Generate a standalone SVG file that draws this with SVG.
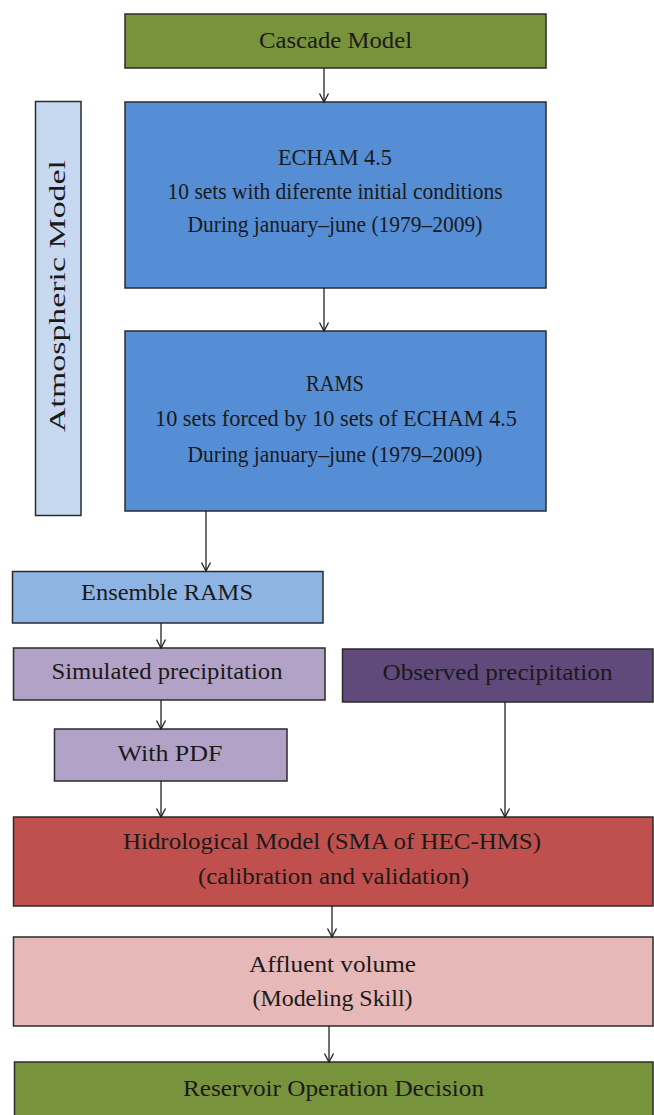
<svg xmlns="http://www.w3.org/2000/svg" width="654" height="1115" viewBox="0 0 654 1115">
  <defs>
    <marker id="arr" markerWidth="12" markerHeight="12" refX="10.5" refY="6" orient="auto" markerUnits="userSpaceOnUse" viewBox="0 0 12 12">
      <polyline points="2,1.5 10.5,6 2,10.5" fill="none" stroke="#222" stroke-width="1.3"/>
    </marker>
  </defs>
  <style>
    .box { stroke: #2b2b2b; stroke-width: 1.5; }
    .t { font-family: "Liberation Serif", "Times New Roman", serif; font-size: 24px; fill: #1a1a1a; text-anchor: middle; }
    .c { stroke: #222; stroke-width: 1.3; fill: none; marker-end: url(#arr); }
  </style>
  <rect width="654" height="1115" fill="#ffffff"/>

  <g id="cascade">
    <rect class="box" x="125" y="14" width="421" height="54" fill="#77933C"/>
    <text class="t" x="335.5" y="48" textLength="153" lengthAdjust="spacingAndGlyphs">Cascade Model</text>
  </g>

  <g id="echam">
    <rect class="box" x="125" y="102" width="421" height="186" fill="#558ED5"/>
    <text class="t" x="335" y="165" textLength="114" lengthAdjust="spacingAndGlyphs">ECHAM 4.5</text>
    <text class="t" x="335" y="199" textLength="335" lengthAdjust="spacingAndGlyphs">10 sets with diferente initial conditions</text>
    <text class="t" x="335" y="232" textLength="295" lengthAdjust="spacingAndGlyphs">During january–june (1979–2009)</text>
  </g>

  <g id="rams">
    <rect class="box" x="125" y="331" width="421" height="180" fill="#558ED5"/>
    <text class="t" x="335" y="391" textLength="58" lengthAdjust="spacingAndGlyphs">RAMS</text>
    <text class="t" x="336" y="426" textLength="362" lengthAdjust="spacingAndGlyphs">10 sets forced by 10 sets of ECHAM 4.5</text>
    <text class="t" x="335" y="462" textLength="295" lengthAdjust="spacingAndGlyphs">During january–june (1979–2009)</text>
  </g>

  <g id="atmospheric">
    <rect class="box" x="35.5" y="101.5" width="45.5" height="414" fill="#C6D9F1"/>
    <text class="t" x="0" y="0" transform="translate(65,296) rotate(-90)" textLength="272" lengthAdjust="spacingAndGlyphs">Atmospheric Model</text>
  </g>

  <g id="ensemble">
    <rect class="box" x="12.5" y="571.5" width="310.5" height="51.5" fill="#8DB4E2"/>
    <text class="t" x="167" y="600" textLength="172" lengthAdjust="spacingAndGlyphs">Ensemble RAMS</text>
  </g>

  <g id="simulated">
    <rect class="box" x="13.5" y="648" width="311.5" height="52" fill="#B3A2C7"/>
    <text class="t" x="167" y="679" textLength="231" lengthAdjust="spacingAndGlyphs">Simulated precipitation</text>
  </g>

  <g id="observed">
    <rect class="box" x="342.5" y="649" width="310.5" height="53" fill="#604A7B"/>
    <text class="t" x="497.5" y="680" textLength="230" lengthAdjust="spacingAndGlyphs">Observed precipitation</text>
  </g>

  <g id="withpdf">
    <rect class="box" x="54.5" y="729" width="232.5" height="52" fill="#B3A2C7"/>
    <text class="t" x="170" y="761" textLength="105" lengthAdjust="spacingAndGlyphs">With PDF</text>
  </g>

  <g id="hidrological">
    <rect class="box" x="13.5" y="817" width="639.5" height="89" fill="#C0504D"/>
    <text class="t" x="332" y="849" textLength="418" lengthAdjust="spacingAndGlyphs">Hidrological Model (SMA of HEC-HMS)</text>
    <text class="t" x="333.5" y="884" textLength="271" lengthAdjust="spacingAndGlyphs">(calibration and validation)</text>
  </g>

  <g id="affluent">
    <rect class="box" x="13.5" y="937" width="639.5" height="89" fill="#E6B9B8"/>
    <text class="t" x="332.5" y="972" textLength="167" lengthAdjust="spacingAndGlyphs">Affluent volume</text>
    <text class="t" x="332.5" y="1006" textLength="160" lengthAdjust="spacingAndGlyphs">(Modeling Skill)</text>
  </g>

  <g id="reservoir">
    <rect class="box" x="14.5" y="1062" width="638.5" height="60" fill="#77933C"/>
    <text class="t" x="333.5" y="1096" textLength="301" lengthAdjust="spacingAndGlyphs">Reservoir Operation Decision</text>
  </g>

  <g id="connectors">
    <line class="c" x1="324" y1="68" x2="324" y2="102"/>
    <line class="c" x1="324" y1="288" x2="324" y2="331"/>
    <line class="c" x1="206" y1="511" x2="206" y2="571"/>
    <line class="c" x1="161" y1="623" x2="161" y2="648"/>
    <line class="c" x1="161" y1="700" x2="161" y2="729"/>
    <line class="c" x1="161" y1="781" x2="161" y2="817"/>
    <line class="c" x1="505" y1="702" x2="505" y2="817"/>
    <line class="c" x1="332" y1="906" x2="332" y2="937"/>
    <line class="c" x1="329" y1="1026" x2="329" y2="1062"/>
  </g>
</svg>
